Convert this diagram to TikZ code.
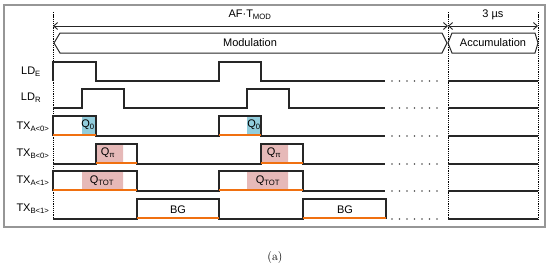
\documentclass[tikz,border=0pt]{standalone}
\usepackage{fontspec}
\newfontfamily\arialfont{Liberation Sans}
\usetikzlibrary{arrows.meta}
\definecolor{qblue}{RGB}{146,205,220}
\definecolor{qpink}{RGB}{230,185,184}
\definecolor{chgorange}{RGB}{240,112,16}
\definecolor{framegray}{RGB}{150,150,150}

\begin{document}
\begin{tikzpicture}[
  x=1pt, y=-1pt,
  font=\arialfont\fontsize{11}{13}\selectfont,
  wave/.style={draw=black!85, line width=1.3pt},
  charge/.style={draw=chgorange, line width=2.2pt},
  tdash/.style={draw=black, line width=1pt, dash pattern=on 1.3pt off 0.9pt},
  phase/.style={draw=black!85, line width=1pt},
  span/.style={draw=black!85, line width=0.9pt, {Straight Barb[length=4pt,width=7pt]}-{Straight Barb[length=4pt,width=7pt]}},
  sig/.style={anchor=center, inner sep=1pt},
  dot/.style={fill=black!70, draw=none},
]
\useasboundingbox (0,0) rectangle (550,273);
\draw[framegray, line width=1.3pt] (4,5) rectangle (545,227);

% time marks
\coordinate (t0) at (53,26);
\coordinate (t1) at (448,26);
\coordinate (t2) at (538,26);
\foreach \x in {53,448,538}
  \draw[tdash] (\x,12) -- (\x,219);

\draw[span] (t0) -- (t1);
\draw[span] (t1) -- (t2);
\node (tmod) at (250,15) {AF·T\textsubscript{MOD}};
\node (tacc) at (493,15) {3 µs};

% phases
\draw[phase] (60,33) -- (442,33) -- (447,43) -- (442,53) -- (60,53) -- (54,43) -- cycle;
\draw[phase] (452,33) -- (535,33) -- (538,43) -- (535,53) -- (452,53) -- (448,43) -- cycle;
\node (mod) at (250,43) {Modulation};
\node (acc) at (493,43) {Accumulation};

% charge windows
\fill[qblue] (82,116) rectangle (96,135) (247,116) rectangle (261,135);
\fill[qpink] (96,144) rectangle (123,163) (261,144) rectangle (288,163);
\fill[qpink] (82,171) rectangle (123,190) (247,171) rectangle (288,190);

% waveforms
\draw[wave] (53,81) -- (53,62) -- (96,62) -- (96,81) -- (219,81) -- (219,62) -- (261,62) -- (261,81) -- (385,81);
\draw[wave] (53,108) -- (82,108) -- (82,89) -- (124,89) -- (124,108) -- (247,108) -- (247,89) -- (289,89) -- (289,108) -- (385,108);
\draw[wave] (53,136) -- (53,116) -- (96,116) -- (96,136) -- (219,136) -- (219,116) -- (261,116) -- (261,136) -- (385,136);
\draw[wave] (53,164) -- (96,164) -- (96,144) -- (137,144) -- (137,164) -- (261,164) -- (261,144) -- (303,144) -- (303,164) -- (385,164);
\draw[wave] (53,191) -- (53,171) -- (137,171) -- (137,191) -- (219,191) -- (219,171) -- (303,171) -- (303,191) -- (385,191);
\draw[wave] (53,219) -- (137,219) -- (137,199) -- (219,199) -- (219,219) -- (303,219) -- (303,199) -- (386,199) -- (386,219);

% integration edges
\draw[charge] (53,135) -- (96,135) (219,135) -- (261,135);
\draw[charge] (96,163) -- (137,163) (261,163) -- (303,163);
\draw[charge] (53,190) -- (137,190) (219,190) -- (303,190);
\draw[charge] (137,218) -- (219,218) (303,218) -- (386,218);

% dots and accumulation levels
\foreach \y in {81,108,136,164,191,219} {
  \foreach \x in {0,...,6}
    \fill[dot] (392+7.5*\x,\y) circle (0.8pt);
  \draw[wave] (448,\y) -- (538,\y);
}

\node[sig] (lde) at (31,72) {LD\textsubscript{E}};
\node[sig] (ldr) at (31,98) {LD\textsubscript{R}};
\node[sig] (txa0) at (33,127) {TX\textsubscript{A<0>}};
\node[sig] (txb0) at (33,154) {TX\textsubscript{B<0>}};
\node[sig] (txa1) at (33,181) {TX\textsubscript{A<1>}};
\node[sig] (txb1) at (33,209) {TX\textsubscript{B<1>}};

\node (q0a) at (88,125) {Q\textsubscript{0}};
\node (q0b) at (254,125) {Q\textsubscript{0}};
\node (qpa) at (108,153) {Q\textsubscript{π}};
\node (qpb) at (274,153) {Q\textsubscript{π}};
\node (qta) at (102,181) {Q\textsubscript{TOT}};
\node (qtb) at (268,181) {Q\textsubscript{TOT}};
\node (bga) at (178,210) {BG};
\node (bgb) at (345,210) {BG};

\node[font=\rmfamily\fontsize{12}{14}\selectfont] (cap) at (275,258) {(a)};
\end{tikzpicture}
\end{document}
